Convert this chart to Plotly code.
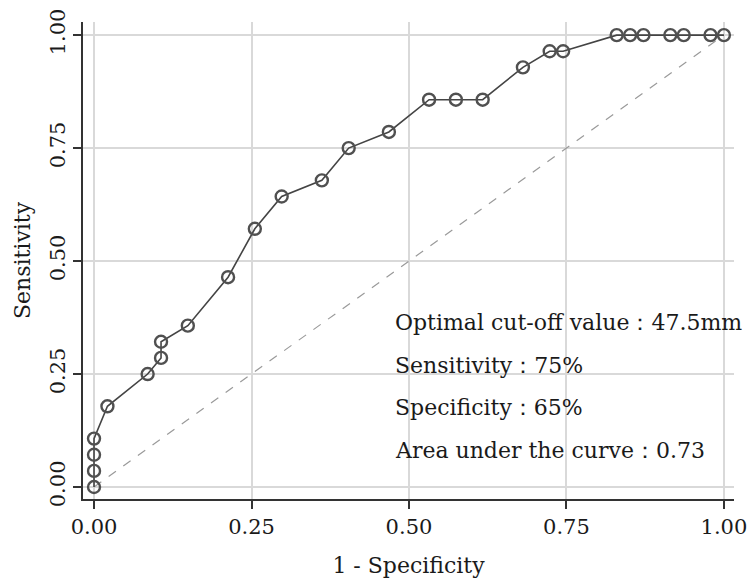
import plotly.graph_objects as go

# ROC curve points (1 - specificity, sensitivity)
fpr = [0.0, 0.0, 0.0, 0.0, 0.0213, 0.0851, 0.1064, 0.1064, 0.1489, 0.2128,
       0.2553, 0.2979, 0.3617, 0.4043, 0.4681, 0.5319, 0.5745, 0.6170,
       0.6809, 0.7234, 0.7447, 0.8298, 0.8511, 0.8723, 0.9149, 0.9362,
       0.9787, 1.0]
tpr = [0.0, 0.0357, 0.0714, 0.1071, 0.1786, 0.25, 0.2857, 0.3214, 0.3571,
       0.4643, 0.5714, 0.6429, 0.6786, 0.75, 0.7857, 0.8571, 0.8571, 0.8571,
       0.9286, 0.9643, 0.9643, 1.0, 1.0, 1.0, 1.0, 1.0, 1.0, 1.0]
ref_x = [0.0, 1.0]
ref_y = [0.0, 1.0]
tick_vals = [0.0, 0.25, 0.5, 0.75, 1.0]
tick_text = ["0.00", "0.25", "0.50", "0.75", "1.00"]
notes = ["Optimal cut-off value\uff1a47.5mm", "Sensitivity\uff1a75%",
         "Specificity\uff1a65%", "Area under the curve\uff1a0.73"]

FONT = "DejaVu Serif"
TXT = "#1a1a1a"

fig = go.Figure()
fig.add_trace(go.Scatter(x=ref_x, y=ref_y, mode="lines",
                         line=dict(color="#9a9a9a", width=1.2, dash="dash"),
                         hoverinfo="skip", showlegend=False))
fig.add_trace(go.Scatter(x=fpr, y=tpr, mode="lines+markers",
                         line=dict(color="#444444", width=1.6),
                         marker=dict(symbol="circle-open", size=12,
                                     color="#505050", line=dict(width=2.4, color="#505050")),
                         showlegend=False))

ys = [0.363, 0.268, 0.175, 0.080]
for t, yy in zip(notes, ys):
    fig.add_annotation(x=0.475, y=yy, xref="x", yref="y", text=t,
                       showarrow=False, xanchor="left", yanchor="middle",
                       font=dict(family=FONT, size=22, color=TXT))

axis_common = dict(showgrid=True, gridcolor="#d9d9d9", gridwidth=1.5,
                   zeroline=False, showline=True, linecolor="#333333", linewidth=1.5,
                   ticks="outside", tickcolor="#333333", tickwidth=1.5,
                   tickvals=tick_vals, ticktext=tick_text, automargin=False,
                   tickfont=dict(family=FONT, size=21, color=TXT))

fig.update_xaxes(range=[-0.0175, 1.016], ticklen=8,
                 title=dict(text="1 - Specificity", font=dict(family=FONT, size=22, color=TXT),
                            standoff=22),
                 **axis_common)
fig.update_yaxes(range=[-0.0265, 1.029], ticklen=8, tickangle=-90,
                 title=dict(text="Sensitivity", font=dict(family=FONT, size=22, color=TXT),
                            standoff=9),
                 **axis_common)

fig.update_layout(width=755, height=578, plot_bgcolor="white", paper_bgcolor="white",
                  margin=dict(l=83, r=21, t=22, b=79),
                  font=dict(family=FONT, color=TXT))

fig.write_html("out.html")
